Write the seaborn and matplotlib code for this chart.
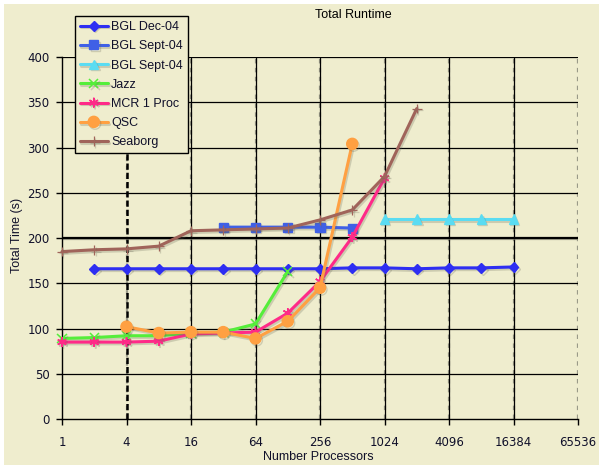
import matplotlib
matplotlib.use("Agg")
import matplotlib.pyplot as plt
import matplotlib.patheffects as pe
from matplotlib.patches import Rectangle
import seaborn as sns
import pandas as pd

# Processor counts and total runtimes (s) per system
procs_bgl_dec = [2, 4, 8, 16, 32, 64, 128, 256, 512, 1024, 2048, 4096, 8192, 16384]
time_bgl_dec = [166, 166, 166, 166, 166, 166, 166, 166, 167, 167, 166, 167, 167, 168]

procs_bgl_sept_a = [32, 64, 128, 256, 512]
time_bgl_sept_a = [212, 212, 212, 212, 211]

procs_bgl_sept_b = [1024, 2048, 4096, 8192, 16384]
time_bgl_sept_b = [221, 221, 221, 221, 221]

procs_jazz = [1, 2, 4, 8, 16, 32, 64, 128]
time_jazz = [89, 90, 92, 92, 95, 96, 105, 163]

procs_mcr = [1, 2, 4, 8, 16, 32, 64, 128, 256, 512, 1024]
time_mcr = [85, 85, 85, 86, 94, 95, 96, 117, 152, 201, 266]

procs_qsc = [4, 8, 16, 32, 64, 128, 256, 512]
time_qsc = [102, 95, 96, 96, 89, 108, 145, 304]

procs_seaborg = [1, 2, 4, 8, 16, 32, 64, 128, 256, 512, 1024, 2048]
time_seaborg = [185, 187, 188, 191, 208, 209, 210, 211, 220, 231, 268, 343]

series_labels = ["BGL Dec-04", "BGL Sept-04", "BGL Sept-04", "Jazz",
                 "MCR 1 Proc", "QSC", "Seaborg"]

x_ticks = [1, 4, 16, 64, 256, 1024, 4096, 16384, 65536]
x_tick_labels = ["1", "4", "16", "64", "256", "1024", "4096", "16384", "65536"]
y_ticks = [0, 50, 100, 150, 200, 250, 300, 350, 400]

BG = "#EFEDCE"
TXT = "#10102a"

sns.set_theme(style="white")
plt.rcParams["font.family"] = ["Liberation Sans", "DejaVu Sans"]

fig = plt.figure(figsize=(5.99, 4.65), dpi=100, facecolor="white")
fig.patches.append(Rectangle((4 / 599, 0), 1, 1 - 4 / 465, transform=fig.transFigure,
                             facecolor=BG, edgecolor="none", zorder=-10))
ax = fig.add_axes([62 / 599, 1 - 419 / 465, (578 - 62) / 599, (419 - 57) / 465])
ax.set_facecolor(BG)

ax.set_xscale("log", base=2)
ax.set_xlim(x_ticks[0], x_ticks[-1])
ax.set_ylim(y_ticks[0], y_ticks[-1])

# grid: horizontal solid lines, vertical lines with faint grey dashes behind
for y in y_ticks[1:]:
    if y == 200:
        ax.axhline(y, color="black", lw=1.6, zorder=1.5, solid_capstyle="butt",
                   path_effects=[pe.SimpleLineShadow(offset=(0, -1.0),
                                                     shadow_color="#8a8a78", alpha=0.7),
                                 pe.Normal()])
    else:
        ax.axhline(y, color="black", lw=0.9, zorder=1)
for x in x_ticks[1:]:
    ax.axvline(x, color="#9a9a88", lw=1.6, ls=(0, (2, 2)), zorder=0.9)
    if x == 4:
        ax.axvline(x, color="black", lw=1.8, ls=(0, (2.5, 1.2)), zorder=1.1)
    elif x != x_ticks[-1]:
        ax.axvline(x, color="black", lw=0.9, zorder=1.1)

shadow = [pe.SimpleLineShadow(offset=(1.0, -1.3), shadow_color="#666655", alpha=0.25),
          pe.Normal()]

styles = [
    (procs_bgl_dec, time_bgl_dec, "#2E2EF2", "D", 5, 1.0),
    (procs_bgl_sept_a, time_bgl_sept_a, "#3F60E6", "s", 6.5, 1.0),
    (procs_bgl_sept_b, time_bgl_sept_b, "#5ADCF2", "^", 6.5, 1.0),
    (procs_jazz, time_jazz, "#55EE3A", "x", 6.5, 1.1),
    (procs_mcr, time_mcr, "#FF2A88", (6, 2, 0), 7, 1.1),
    (procs_qsc, time_qsc, "#FFA042", "o", 8, 1.0),
    (procs_seaborg, time_seaborg, "#A0645A", "+", 7, 0.9),
]

for (xs, ys, col, mk, ms, mew), label in zip(styles, series_labels):
    df = pd.DataFrame({"procs": xs, "time": ys})
    sns.lineplot(data=df, x="procs", y="time", ax=ax, color=col, lw=2.2,
                 marker=mk, markersize=ms, markeredgewidth=mew,
                 markeredgecolor=col, markerfacecolor=col, label=label,
                 zorder=3, clip_on=False, path_effects=shadow)

ax.set_xticks(x_ticks)
ax.set_xticklabels(x_tick_labels)
ax.xaxis.set_minor_locator(matplotlib.ticker.NullLocator())
ax.set_yticks(y_ticks)
ax.tick_params(axis="both", which="major", direction="out", length=4, width=1,
               color="black", labelcolor=TXT, labelsize=8.5, bottom=True, left=True)
ax.tick_params(axis="x", pad=8)
ax.tick_params(axis="y", pad=5)
for lab in ax.get_xticklabels() + ax.get_yticklabels():
    lab.set_fontfamily("DejaVu Sans")

for s in ["top", "right"]:
    ax.spines[s].set_visible(False)
for s in ["left", "bottom"]:
    ax.spines[s].set_color("black")
    ax.spines[s].set_linewidth(1.0)
    ax.spines[s].set_zorder(2)

ax.set_xlabel("")
ax.set_ylabel("")
fig.text(318 / 599, 1 - 457 / 465, "Number Processors", ha="center", va="center",
         fontsize=9, color=TXT)
fig.text(17 / 599, 1 - 235 / 465, "Total Time (s)", ha="center", va="center",
         rotation=90, fontsize=9, color=TXT)
fig.text(353 / 599, 1 - 15 / 465, "Total Runtime", ha="center", va="center",
         fontsize=9, color="black")

leg = ax.legend(loc="upper left", bbox_to_anchor=(75 / 599, 1 - 16 / 465),
                bbox_transform=fig.transFigure, fontsize=9, frameon=True,
                fancybox=False, shadow=False, handlelength=2.2, labelspacing=0.58,
                borderpad=0.4, handletextpad=0.3, borderaxespad=0)
leg.get_frame().set_edgecolor("black")
leg.get_frame().set_linewidth(1.0)
leg.get_frame().set_facecolor(BG)
leg.get_frame().set_alpha(1)
leg.set_zorder(5)
for t in leg.get_texts():
    t.set_color(TXT)

fig.savefig("out.png", dpi=100, facecolor="white")
